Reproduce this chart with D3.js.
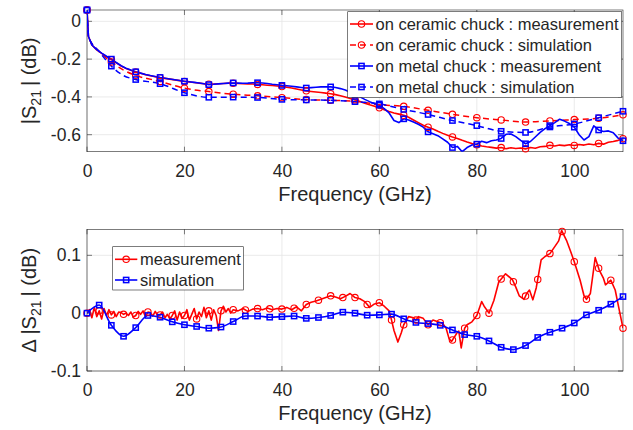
<!DOCTYPE html>
<html><head><meta charset="utf-8">
<script src="https://cdn.jsdelivr.net/npm/d3@7"></script>
<style>body{margin:0;background:#fff}svg{display:block}text{font-family:"Liberation Sans",Arial,Helvetica,sans-serif;fill:#262626}</style>
</head><body><svg id="c" width="633" height="430"></svg>
<script>
// ---------- DATA ----------
const xTicks = [0, 20, 40, 60, 80, 100];
const topYTicks = [0, -0.2, -0.4, -0.6];
const botYTicks = [-0.1, 0, 0.1];

// top plot: |S21| measurement (1 GHz grid after initial drop)
const measF = [0, 0.3].concat(d3.range(1, 111));
const ceramicMeas = [0.06, -0.08,
-0.125,-0.151,-0.170,-0.187,-0.203,-0.220,-0.236,-0.249,-0.259,-0.268,
-0.275,-0.282,-0.288,-0.293,-0.298,-0.302,-0.306,-0.310,-0.314,-0.318,
-0.321,-0.324,-0.327,-0.330,-0.333,-0.332,-0.330,-0.329,-0.328,-0.328,
-0.329,-0.330,-0.331,-0.332,-0.334,-0.336,-0.338,-0.340,-0.342,-0.345,
-0.349,-0.353,-0.358,-0.363,-0.368,-0.371,-0.374,-0.377,-0.380,-0.383,
-0.388,-0.394,-0.401,-0.408,-0.415,-0.424,-0.433,-0.442,-0.450,-0.458,
-0.468,-0.477,-0.485,-0.491,-0.497,-0.508,-0.522,-0.536,-0.550,-0.560,
-0.570,-0.582,-0.593,-0.603,-0.612,-0.620,-0.630,-0.639,-0.647,-0.653,
-0.660,-0.664,-0.667,-0.671,-0.668,-0.674,-0.669,-0.673,-0.670,-0.675,
-0.668,-0.672,-0.664,-0.662,-0.656,-0.660,-0.655,-0.658,-0.653,-0.657,
-0.652,-0.655,-0.649,-0.653,-0.646,-0.650,-0.640,-0.636,-0.630,-0.621];
const metalMeas = [0.06, -0.08,
-0.125,-0.150,-0.168,-0.185,-0.200,-0.218,-0.235,-0.248,-0.258,-0.267,
-0.274,-0.281,-0.287,-0.292,-0.297,-0.301,-0.305,-0.309,-0.313,-0.317,
-0.320,-0.323,-0.326,-0.330,-0.335,-0.333,-0.331,-0.329,-0.327,-0.326,
-0.327,-0.328,-0.327,-0.325,-0.325,-0.326,-0.329,-0.333,-0.336,-0.339,
-0.341,-0.344,-0.347,-0.350,-0.353,-0.351,-0.349,-0.347,-0.346,-0.347,
-0.350,-0.356,-0.364,-0.375,-0.388,-0.400,-0.413,-0.425,-0.436,-0.444,
-0.462,-0.485,-0.525,-0.536,-0.516,-0.522,-0.533,-0.545,-0.560,-0.585,
-0.595,-0.605,-0.622,-0.640,-0.668,-0.662,-0.690,-0.668,-0.655,-0.650,
-0.635,-0.642,-0.632,-0.628,-0.620,-0.598,-0.596,-0.610,-0.630,-0.648,
-0.636,-0.612,-0.588,-0.568,-0.552,-0.536,-0.518,-0.528,-0.541,-0.560,
-0.600,-0.628,-0.610,-0.553,-0.575,-0.583,-0.580,-0.590,-0.618,-0.632];

// top plot: simulations
const simF = [0, 0.3, 2.5, 5, 7.5, 10, 15, 20, 25, 30, 35, 40, 45, 50, 55, 60, 65, 70, 75, 80, 85, 90, 95, 100, 105, 110];
const ceramicSim = [0.06, -0.08, -0.16, -0.215, -0.258, -0.286, -0.318, -0.354, -0.372, -0.386, -0.394, -0.404, -0.414, -0.418, -0.423, -0.441, -0.450, -0.471, -0.492, -0.510, -0.522, -0.533, -0.527, -0.520, -0.513, -0.495];
const metalSim   = [0.06, -0.08, -0.16, -0.237, -0.287, -0.308, -0.330, -0.378, -0.402, -0.401, -0.403, -0.413, -0.416, -0.418, -0.425, -0.437, -0.466, -0.493, -0.525, -0.552, -0.582, -0.588, -0.559, -0.543, -0.510, -0.476];

// bottom plot: difference, measurement
const diffMeasF = [0,0.5,1,1.5,2,2.5,3,3.5,4,4.5,5,5.5,6,6.5,7,7.5,8,8.5,9,9.5,10,10.5,11,11.5,12,12.5,13,13.5,14,14.5,15,15.5,16,16.5,17,17.5,18,18.5,19,19.5,20,20.5,21,21.5,22,22.5,23,23.5,24,24.5,25,25.5,26,26.5,27,27.5,28,28.5,29,29.5,30,
31,32,33,34,35,36,37,38,39,40,41,42,43,44,45,46,47,48,49,50,51,52,53,54,55,56,57,58,59,60,61,62,62.5,63,63.8,64.5,65,66,67,67.5,68,69,70,71,72,73,73.7,74.3,74.8,75.5,76,76.3,76.8,77.2,77.5,78,79,80,81,81.5,82.5,83.5,84.5,85.9,87.3,88,88.7,89.7,90.3,90.8,91.5,92.2,93.2,94,95,96,96.8,97.4,98.4,99.2,100,101.2,102,102.5,103.3,104.3,105.1,106,106.4,107.5,108.4,109.1,110];
const diffMeas = [0.000,0.006,-0.008,0.010,-0.006,0.004,-0.010,0.008,-0.004,0.006,-0.003,0.003,-0.006,0.002,0.001,-0.002,0.000,-0.004,0.002,-0.007,-0.004,0.003,-0.002,0.004,-0.006,0.002,0.001,-0.005,0.003,-0.004,-0.003,0.002,-0.008,-0.002,-0.010,-0.004,0.004,-0.012,0.002,-0.009,-0.004,0.006,-0.012,-0.002,0.008,-0.010,0.002,-0.006,0.010,-0.008,0.004,-0.012,0.006,-0.004,-0.030,0.004,0.012,0.002,0.008,0.000,0.006,
0.004,0.008,0.003,0.007,0.008,0.006,0.009,0.006,0.008,0.007,0.010,0.006,0.011,0.004,0.015,0.019,0.021,0.024,0.027,0.030,0.028,0.025,0.029,0.034,0.027,0.025,0.020,0.010,0.016,0.018,0.012,0.004,-0.012,-0.030,-0.050,-0.034,-0.020,-0.006,-0.008,-0.012,-0.006,-0.009,-0.020,-0.012,-0.015,-0.018,-0.026,-0.044,-0.049,-0.040,-0.033,-0.031,-0.060,-0.040,-0.026,-0.020,-0.015,-0.004,0.020,0.012,0.000,0.022,0.054,0.068,0.058,0.045,0.030,0.024,0.035,0.040,0.023,0.044,0.092,0.098,0.103,0.115,0.125,0.143,0.126,0.108,0.089,0.057,0.030,0.024,0.034,0.096,0.075,0.060,0.049,0.057,0.040,0.011,-0.026];

// bottom plot: difference, simulation
const diffSimF = [0,2.5,5,7.5,10,12.5,15,17.5,20,22.5,25,27.5,30,32.5,35,37.5,40,42.5,45,47.5,50,52.5,55,57.5,60,62.5,65,67.5,70,72.5,75,77.5,80,82.5,85,87.5,90,92.5,95,97.5,100,102.5,105,107.5,110];
const diffSim = [0.000,0.014,-0.021,-0.040,-0.025,-0.004,-0.007,-0.015,-0.020,-0.023,-0.026,-0.024,-0.0145,-0.005,-0.005,-0.007,-0.006,-0.005,-0.009,-0.0075,-0.004,0.0017,0.000,-0.0035,-0.003,-0.0017,-0.0098,-0.016,-0.018,-0.021,-0.029,-0.037,-0.040,-0.048,-0.059,-0.063,-0.056,-0.042,-0.033,-0.026,-0.017,-0.003,0.005,0.0155,0.0287];

const topLegend = ["on ceramic chuck : measurement","on ceramic chuck : simulation","on metal chuck : measurement","on metal chuck : simulation"];
const botLegend = ["measurement","simulation"];

// ---------- DRAW ----------
const svg = d3.select("#c");
const RED = "#ff0000", BLUE = "#0000ff", AX = "#262626";

function interpAt(F, V, f) {
  const i = d3.bisectLeft(F, f);
  if (i <= 0) return V[0];
  if (i >= F.length) return V[V.length - 1];
  const t = (f - F[i-1]) / (F[i] - F[i-1]);
  return V[i-1] + t * (V[i] - V[i-1]);
}

function panel(cfg) {
  const x = d3.scaleLinear().domain([0, 110]).range([cfg.l, cfg.r]);
  const y = d3.scaleLinear().domain(cfg.yDom).range([cfg.b, cfg.t]);
  const g = svg.append("g");
  g.append("g").selectAll("line").data(xTicks).join("line")
    .attr("x1", d => x(d)).attr("x2", d => x(d)).attr("y1", cfg.t).attr("y2", cfg.b)
    .attr("stroke", "#e5e5e5").attr("stroke-width", 0.8);
  g.append("g").selectAll("line").data(cfg.yTicks).join("line")
    .attr("y1", d => y(d)).attr("y2", d => y(d)).attr("x1", cfg.l).attr("x2", cfg.r)
    .attr("stroke", "#e5e5e5").attr("stroke-width", 0.8);
  g.append("rect").attr("x", cfg.l).attr("y", cfg.t).attr("width", cfg.r - cfg.l).attr("height", cfg.b - cfg.t)
    .attr("fill", "none").attr("stroke", AX).attr("stroke-width", 0.6);
  const tl = 5;
  g.append("g").selectAll("path").data(xTicks).join("path")
    .attr("d", d => `M${x(d)},${cfg.b}v${-tl}M${x(d)},${cfg.t}v${tl}`).attr("stroke", AX).attr("stroke-width", 0.6);
  g.append("g").selectAll("path").data(cfg.yTicks).join("path")
    .attr("d", d => `M${cfg.l},${y(d)}h${tl}M${cfg.r},${y(d)}h${-tl}`).attr("stroke", AX).attr("stroke-width", 0.6);
  const ax = g.append("g").attr("transform", `translate(0,${cfg.b})`)
    .call(d3.axisBottom(x).tickValues(xTicks).tickSize(0).tickPadding(12.5).tickFormat(d3.format("d")));
  const ay = g.append("g").attr("transform", `translate(${cfg.l},0)`)
    .call(d3.axisLeft(y).tickValues(cfg.yTicks).tickSize(0).tickPadding(6).tickFormat(d => d === 0 ? "0" : String(d)));
  [ax, ay].forEach(a => {
    a.select(".domain").remove();
    a.selectAll("text").attr("font-size", 17.5).attr("fill", AX)
      .attr("font-family", '"Liberation Sans",Arial,sans-serif');
  });
  g.append("text").attr("x", (cfg.l + cfg.r) / 2).attr("y", cfg.b + 49).attr("text-anchor", "middle")
    .attr("font-size", 20).text("Frequency (GHz)");
  const yl = g.append("text").attr("transform", `translate(36,${(cfg.t + cfg.b) / 2}) rotate(-90)`)
    .attr("text-anchor", "middle").attr("font-size", 20);
  yl.append("tspan").text(cfg.yPre + "|S");
  yl.append("tspan").attr("font-size", 14).attr("dy", 5).text("21");
  yl.append("tspan").attr("dy", -5).text("\u2009| (dB)");

  const clipId = "clip" + cfg.id;
  svg.append("clipPath").attr("id", clipId).append("rect")
    .attr("x", cfg.l).attr("y", cfg.t - 4).attr("width", cfg.r - cfg.l).attr("height", cfg.b - cfg.t + 4);
  const plot = g.append("g").attr("clip-path", `url(#${clipId})`);
  return {x, y, g, plot};
}

function drawSeries(p, F, V, s) {
  const pts = F.map((f, i) => [f, V[i]]);
  const line = d3.line().x(d => p.x(d[0])).y(d => p.y(d[1])).curve(s.smooth ? d3.curveMonotoneX : d3.curveLinear);
  p.plot.append("path").attr("d", line(pts)).attr("fill", "none").attr("stroke", s.color)
    .attr("stroke-width", s.width).attr("stroke-dasharray", s.dash ? "6,4" : null).attr("stroke-linejoin", "round");
  const mf = [];
  for (let f = 0; f <= 110.001; f += s.step) mf.push(f);
  const mk = p.g.append("g");
  mf.forEach(f => drawMarker(mk, p.x(f), p.y(interpAt(F, V, f)), s));
}

function drawMarker(g, cx, cy, s) {
  if (s.marker === "o") {
    g.append("circle").attr("cx", cx).attr("cy", cy).attr("r", 3.2).attr("fill", "none")
      .attr("stroke", s.color).attr("stroke-width", 1.1);
  } else {
    g.append("rect").attr("x", cx - 2.6).attr("y", cy - 2.6).attr("width", 5.2).attr("height", 5.2)
      .attr("fill", "none").attr("stroke", s.color).attr("stroke-width", 1.5);
  }
}

function legend(g, x0, y0, w, h, items, rowY, lineX0, lineX1, textX) {
  g.append("rect").attr("x", x0).attr("y", y0).attr("width", w).attr("height", h)
    .attr("fill", "#fff").attr("stroke", AX).attr("stroke-width", 0.6);
  items.forEach((it, i) => {
    const yy = rowY[i];
    g.append("line").attr("x1", lineX0).attr("x2", lineX1).attr("y1", yy).attr("y2", yy)
      .attr("stroke", it.s.color).attr("stroke-width", it.s.width).attr("stroke-dasharray", it.s.dash ? "6,4" : null);
    drawMarker(g, (lineX0 + lineX1) / 2, yy, it.s);
    g.append("text").attr("x", textX).attr("y", yy).attr("dy", "0.36em").attr("font-size", 16.5).text(it.label);
  });
}

const pt = panel({id: "t", l: 87, r: 623, t: 10, b: 151.7, yDom: [-0.69, 0.06], yTicks: topYTicks, yPre: ""});
const sCM = {color: RED, width: 1.6, marker: "o", step: 5};
const sCS = {color: RED, width: 1.5, marker: "o", step: 5, dash: true, smooth: true};
const sMM = {color: BLUE, width: 1.6, marker: "s", step: 5};
const sMS = {color: BLUE, width: 1.5, marker: "s", step: 5, dash: true, smooth: true};
drawSeries(pt, measF, ceramicMeas, sCM);
drawSeries(pt, simF, ceramicSim, sCS);
drawSeries(pt, measF, metalMeas, sMM);
drawSeries(pt, simF, metalSim, sMS);
legend(pt.g, 347.7, 11.7, 274, 85.6,
  topLegend.map((l, i) => ({label: l, s: [sCM, sCS, sMM, sMS][i]})),
  [24, 45, 66, 87], 350, 373, 375.5);

const pb = panel({id: "b", l: 87, r: 623, t: 229.3, b: 371, yDom: [-0.1, 0.145], yTicks: botYTicks, yPre: "\u0394 "});
const sDM = {color: RED, width: 1.6, marker: "o", step: 2.5};
const sDS = {color: BLUE, width: 1.6, marker: "s", step: 2.5, smooth: true};
drawSeries(pb, diffMeasF, diffMeas, sDM);
drawSeries(pb, diffSimF, diffSim, sDS);
legend(pb.g, 112.7, 246.7, 130.6, 43.3,
  botLegend.map((l, i) => ({label: l, s: [sDM, sDS][i]})),
  [259.3, 280], 115, 137.3, 140);
</script></body></html>
